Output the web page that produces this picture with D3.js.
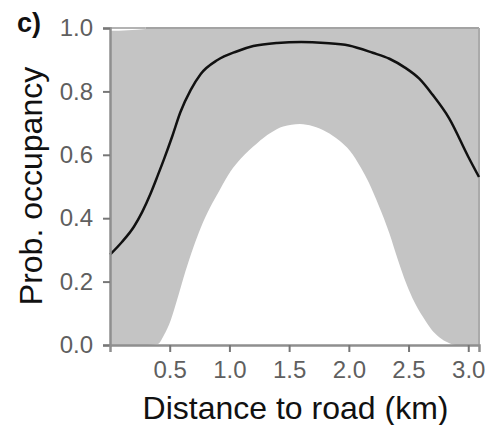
<!DOCTYPE html>
<html>
<head>
<meta charset="utf-8">
<script src="https://cdn.jsdelivr.net/npm/d3@7"></script>
<style>
  body { margin: 0; background: #fff; }
  svg { display: block; }
</style>
</head>
<body>
<svg id="chart" width="491" height="425"></svg>
<script>
// distance to road (km) and fitted occupancy
const distance = [0, 0.1, 0.2, 0.27, 0.34, 0.4, 0.45, 0.52, 0.59, 0.675, 0.76, 0.9, 1.06, 1.2, 1.4, 1.6, 1.8, 2.0, 2.2, 2.34, 2.47, 2.59, 2.7, 2.84, 3.0, 3.09];
const meanOcc = [0.285, 0.325, 0.373, 0.42, 0.478, 0.535, 0.584, 0.657, 0.735, 0.804, 0.855, 0.899, 0.926, 0.943, 0.953, 0.956, 0.953, 0.945, 0.922, 0.903, 0.875, 0.84, 0.79, 0.715, 0.594, 0.53];

// credible band
const bandDist = [0, 0.15, 0.3, 0.4, 0.45, 0.51, 0.56, 0.63, 0.7, 0.76, 0.84, 0.92, 1.01, 1.1, 1.23, 1.35, 1.45, 1.59, 1.7, 1.81, 1.92, 2.01, 2.1, 2.17, 2.25, 2.34, 2.41, 2.48, 2.55, 2.62, 2.69, 2.76, 2.83, 2.9, 3.09];
const lowOcc = [0, 0, 0, 0.003, 0.03, 0.08, 0.14, 0.23, 0.31, 0.37, 0.435, 0.49, 0.548, 0.59, 0.636, 0.67, 0.689, 0.697, 0.69, 0.673, 0.645, 0.612, 0.56, 0.51, 0.44, 0.352, 0.27, 0.195, 0.135, 0.089, 0.05, 0.024, 0.008, 0, 0];
const upOcc = [0.991, 0.993, 0.997, 1, 1, 1, 1, 1, 1, 1, 1, 1, 1, 1, 1, 1, 1, 1, 1, 1, 1, 1, 1, 1, 1, 1, 1, 1, 1, 1, 1, 1, 1, 1, 1];

const xTicks = [0.5, 1.0, 1.5, 2.0, 2.5, 3.0];
const yTicks = [0.0, 0.2, 0.4, 0.6, 0.8, 1.0];

const svg = d3.select("#chart");
const plotLeft = 110, plotRight = 479, plotTop = 28, plotBottom = 345;

const x = d3.scaleLinear().domain([0, 3.09]).range([plotLeft, plotRight]);
const y = d3.scaleLinear().domain([0, 1]).range([plotBottom, plotTop]);

const band = bandDist.map((d, i) => ({ d: d, lo: lowOcc[i], hi: upOcc[i] }));

svg.append("path")
    .datum(band)
    .attr("d", d3.area()
        .x(p => x(p.d))
        .y0(p => y(p.lo))
        .y1(p => y(p.hi))
        .curve(d3.curveMonotoneX))
    .attr("fill", "#c4c4c4");

// darker edge along the top and right of the panel
svg.append("line")
    .attr("x1", x(0.3)).attr("x2", x(3.09))
    .attr("y1", y(1)).attr("y2", y(1))
    .attr("stroke", "#a3a3a3")
    .attr("stroke-width", 2);
svg.append("line")
    .attr("x1", x(0)).attr("x2", x(0.3))
    .attr("y1", y(1)).attr("y2", y(1))
    .attr("stroke", "#b3b3b3")
    .attr("stroke-width", 2);
svg.append("line")
    .attr("x1", x(3.09)).attr("x2", x(3.09))
    .attr("y1", y(1)).attr("y2", y(0))
    .attr("stroke", "#aaaaaa")
    .attr("stroke-width", 2);

svg.append("path")
    .datum(distance.map((d, i) => [d, meanOcc[i]]))
    .attr("d", d3.line()
        .x(p => x(p[0]))
        .y(p => y(p[1]))
        .curve(d3.curveMonotoneX))
    .attr("fill", "none")
    .attr("stroke", "#111")
    .attr("stroke-width", 2.5);

const yAxis = svg.append("g")
    .attr("transform", `translate(${plotLeft},0)`)
    .call(d3.axisLeft(y).tickValues(yTicks).tickFormat(d3.format(".1f")).tickSizeOuter(0).tickSize(7).tickPadding(10));

const xAxis = svg.append("g")
    .attr("transform", `translate(0,${plotBottom})`)
    .call(d3.axisBottom(x).tickValues(xTicks).tickFormat(d3.format(".1f")).tickSizeOuter(0).tickSize(7).tickPadding(9));

[yAxis, xAxis].forEach(g => {
    g.select(".domain").attr("stroke", "#8f8f8f").attr("stroke-width", 2.5);
    g.selectAll(".tick line").attr("stroke", "#777").attr("stroke-width", 2);
    g.selectAll(".tick text")
        .attr("fill", "#5f5f5f")
        .style("font-family", "'Liberation Sans', Arial, sans-serif")
        .style("font-size", "24px");
});

svg.append("text")
    .attr("x", (x(0) + x(3.09)) / 2 + 1)
    .attr("y", 419)
    .attr("text-anchor", "middle")
    .style("font-family", "'Liberation Sans', Arial, sans-serif")
    .style("font-size", "32px")
    .attr("fill", "#111")
    .text("Distance to road (km)");

svg.append("text")
    .attr("transform", "translate(42,186) rotate(-90)")
    .attr("text-anchor", "middle")
    .style("font-family", "'Liberation Sans', Arial, sans-serif")
    .style("font-size", "32px")
    .attr("fill", "#111")
    .text("Prob. occupancy");

svg.append("text")
    .attr("x", 17)
    .attr("y", 32)
    .style("font-family", "'Liberation Sans', Arial, sans-serif")
    .style("font-size", "27px")
    .style("font-weight", "bold")
    .attr("fill", "#111")
    .text("c)");
</script>
</body>
</html>
